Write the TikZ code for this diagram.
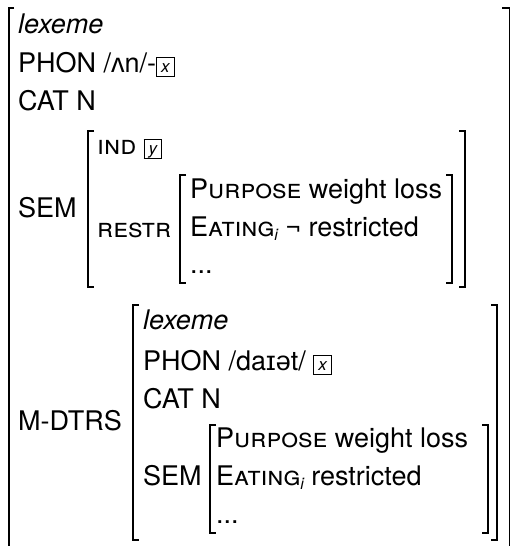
\documentclass[tikz,border=0pt]{standalone}
\usepackage{fontspec}
\setmainfont{TeX Gyre Heros}
\newfontfamily\ipafont{Liberation Sans}
\newcommand{\smc}[1]{\textsc{#1}}
\newcommand{\tagbx}[1]{{\setlength{\fboxsep}{0pt}\setlength{\fboxrule}{0.7pt}\fbox{\makebox[17pt]{\rule[-4pt]{0pt}{18pt}\fontsize{17}{17}\selectfont\itshape #1}}}}
\newcommand{\subi}{\raisebox{-4pt}{\fontsize{16}{16}\selectfont\itshape i}}
\tikzset{
  txt/.style={anchor=base west, inner sep=0pt, font=\fontsize{27}{32}\selectfont},
  brk/.style={line width=1.6pt, line join=miter},
}
\begin{document}
\begin{tikzpicture}[x=1pt,y=-1pt]
\useasboundingbox (0,0) rectangle (509,546);
% outer brackets
\draw[brk] (14,8) -- (9,8) -- (9,556);
\draw[brk] (502,8) -- (509.4,8) -- (509.4,556);
% outer AVM
\node[txt] (olex) at (18,33) {\itshape lexeme};
\node[txt] (ophon) at (18,72) {PHON /{\ipafont ʌ}n/-\tagbx{x}};
\node[txt] (ocat) at (18,110) {CAT N};
\node[txt] (osem) at (18,217) {SEM};
% SEM value
\draw[brk] (94,131) -- (88,131) -- (88,287) -- (94,287);
\draw[brk] (459,131) -- (465,131) -- (465,287) -- (459,287);
\node[txt] (sind) at (97,154) {\smc{ind} \tagbx{y}};
\node[txt] (srestr) at (97,237) {\smc{restr}};
% RESTR value
\draw[brk] (186,175) -- (180,175) -- (180,283) -- (186,283);
\draw[brk] (446,175) -- (452,175) -- (452,283) -- (446,283);
\node[txt] (rpurp) at (190,198) {\smc{Purpose} weight loss};
\node[txt] (reat) at (190,236) {\smc{Eating}\subi{} ¬ restricted};
\node[txt] (rdots) at (190,273) {...};
% M-DTRS
\node[txt] (mlabel) at (18,430) {M-DTRS};
\draw[brk] (139,305) -- (133,305) -- (133,540) -- (139,540);
\draw[brk] (491,305) -- (497,305) -- (497,540) -- (491,540);
\node[txt] (mlex) at (143,329) {\itshape lexeme};
\node[txt] (mphon) at (143,370) {PHON /da{\ipafont ɪə}t/ \tagbx{x}};
\node[txt] (mcat) at (143,408) {CAT N};
\node[txt] (msem) at (143,485) {SEM};
% inner SEM value
\draw[brk] (216,425) -- (210,425) -- (210,533) -- (216,533);
\draw[brk] (482,425) -- (488,425) -- (488,533) -- (482,533);
\node[txt] (npurp) at (216,447) {\smc{Purpose} weight loss};
\node[txt] (neat) at (216,485) {\smc{Eating}\subi{} restricted};
\node[txt] (ndots) at (216,523) {...};
\end{tikzpicture}
\end{document}
